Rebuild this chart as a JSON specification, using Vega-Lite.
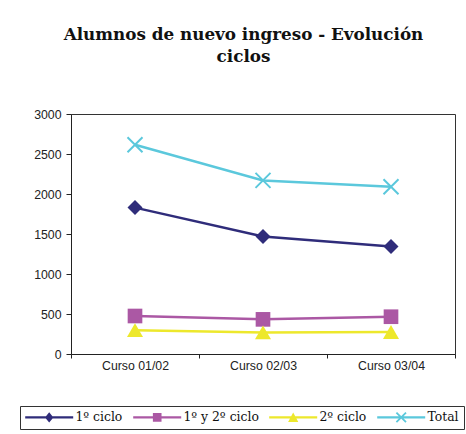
{
  "$schema": "https://vega.github.io/schema/vega-lite/v6.json",
  "width": 384,
  "height": 240,
  "autosize": {"type": "none"},
  "padding": {"left": 71, "top": 114, "right": 11, "bottom": 80},
  "background": "white",
  "config": {
    "view": {"stroke": "#333", "strokeWidth": 1},
    "axis": {
      "domainColor": "#222",
      "tickColor": "#222",
      "labelColor": "#222",
      "labelFont": "Liberation Sans",
      "labelFontSize": 12.3,
      "grid": false,
      "title": null
    }
  },
  "title": {
    "text": ["Alumnos de nuevo ingreso - Evolución", "ciclos"],
    "font": "DejaVu Serif",
    "fontSize": 16.8,
    "fontWeight": "bold",
    "color": "#111",
    "anchor": "middle",
    "frame": "group",
    "dx": -19.5,
    "offset": 42,
    "lineHeight": 22.4
  },
  "data": {
    "values": [
      {"curso": "Curso 01/02", "serie": "1º ciclo", "valor": 1830},
      {"curso": "Curso 02/03", "serie": "1º ciclo", "valor": 1470},
      {"curso": "Curso 03/04", "serie": "1º ciclo", "valor": 1345},
      {"curso": "Curso 01/02", "serie": "1º y 2º ciclo", "valor": 475},
      {"curso": "Curso 02/03", "serie": "1º y 2º ciclo", "valor": 433},
      {"curso": "Curso 03/04", "serie": "1º y 2º ciclo", "valor": 466},
      {"curso": "Curso 01/02", "serie": "2º ciclo", "valor": 298},
      {"curso": "Curso 02/03", "serie": "2º ciclo", "valor": 270},
      {"curso": "Curso 03/04", "serie": "2º ciclo", "valor": 275},
      {"curso": "Curso 01/02", "serie": "Total", "valor": 2615},
      {"curso": "Curso 02/03", "serie": "Total", "valor": 2170},
      {"curso": "Curso 03/04", "serie": "Total", "valor": 2090}
    ]
  },
  "encoding": {
    "x": {
      "field": "curso",
      "type": "nominal",
      "bandPosition": 0.5,
      "scale": {"type": "band", "paddingInner": 0, "paddingOuter": 0},
      "axis": {"labelAngle": 0, "tickBand": "extent", "tickSize": 4, "labelPadding": 1}
    },
    "y": {
      "field": "valor",
      "type": "quantitative",
      "scale": {"domain": [0, 3000], "nice": false},
      "axis": {"values": [0, 500, 1000, 1500, 2000, 2500, 3000], "format": "d", "tickSize": 5, "labelPadding": 5}
    },
    "color": {
      "field": "serie",
      "type": "nominal",
      "scale": {
        "domain": ["1º ciclo", "1º y 2º ciclo", "2º ciclo", "Total"],
        "range": ["#2f2c7a", "#ab58a4", "#ede82c", "#5bc8dc"]
      },
      "legend": {
        "orient": "none",
        "legendX": -51,
        "legendY": 292,
        "direction": "horizontal",
        "title": null,
        "strokeColor": "#333",
        "fillColor": "white",
        "padding": 5,
        "symbolSize": 144,
        "symbolStrokeWidth": 0,
        "symbolOpacity": 1,
        "labelOffset": 38,
        "columnPadding": 10,
        "labelFont": "DejaVu Serif",
        "labelFontSize": 12.4,
        "labelColor": "#111"
      }
    }
  },
  "layer": [
    {
      "transform": [{"filter": "datum.valor < 0"}],
      "mark": {"type": "point", "filled": true, "opacity": 1},
      "encoding": {
        "shape": {
          "field": "serie",
          "type": "nominal",
          "scale": {
            "domain": ["1º ciclo", "1º y 2º ciclo", "2º ciclo", "Total"],
            "range": [
              "M-1,-0.2H7V0.2H-1ZM3,-0.85L3.7,0L3,0.85L2.3,0Z",
              "M-1,-0.2H7V0.2H-1ZM2.28,-0.72H3.72V0.72H2.28Z",
              "M-1,-0.2H7V0.2H-1ZM3,-0.8L3.85,0.75H2.15Z",
              "M-1,-0.2H7V0.2H-1ZM2.306,-0.906L3.906,0.694L3.694,0.906L2.094,-0.694ZM3.694,-0.906L3.906,-0.694L2.306,0.906L2.094,0.694Z"
            ]
          }
        }
      }
    },
    {
      "mark": {"type": "line", "strokeWidth": 2.5}
    },
    {
      "transform": [{"filter": "datum.serie === '1º ciclo'"}],
      "mark": {"type": "point", "filled": true, "opacity": 1, "shape": "diamond", "size": 225}
    },
    {
      "transform": [{"filter": "datum.serie === '1º y 2º ciclo'"}],
      "mark": {"type": "point", "filled": true, "opacity": 1, "shape": "square", "size": 215}
    },
    {
      "transform": [{"filter": "datum.serie === '2º ciclo'"}],
      "mark": {"type": "point", "filled": true, "opacity": 1, "shape": "triangle-up", "size": 256}
    },
    {
      "transform": [{"filter": "datum.serie === 'Total'"}],
      "mark": {"type": "point", "filled": false, "strokeWidth": 2, "opacity": 1, "shape": "M-1,-1L1,1M-1,1L1,-1", "size": 225}
    }
  ]
}
